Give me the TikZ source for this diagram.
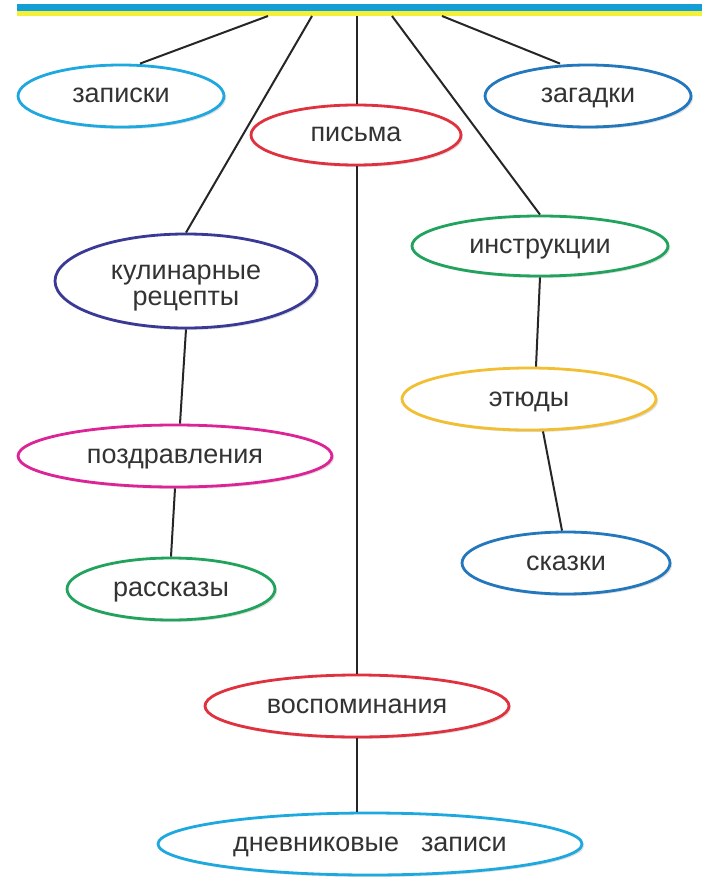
\documentclass[tikz,border=0pt]{standalone}
\usepackage{fontspec}
\setmainfont{Liberation Sans}
\usetikzlibrary{shapes.geometric,shadows}

\definecolor{skyblue}{HTML}{1EA8E0}
\definecolor{oceanblue}{HTML}{2277BD}
\definecolor{rosered}{HTML}{E0313E}
\definecolor{inkblue}{HTML}{3A3A96}
\definecolor{leafgreen}{HTML}{21A35E}
\definecolor{sunyellow}{HTML}{F2BE32}
\definecolor{magentapink}{HTML}{DD2496}
\definecolor{bartop}{HTML}{139FD6}
\definecolor{barbottom}{HTML}{F4F03A}
\definecolor{textgray}{HTML}{333333}

\begin{document}
\begin{tikzpicture}[x=1pt, y=-1pt,
	genre/.style={ellipse, draw, line width=2.8pt, fill=white, inner sep=0pt,
		text=textgray, font=\fontsize{27}{26}\selectfont,
		text height=14pt, text depth=0pt,
		drop shadow={shadow xshift=2pt, shadow yshift=-2pt, opacity=0.25, fill=gray}},
	link/.style={line width=2pt, black!85}] % pixel grid, y pointing down
	
	\useasboundingbox (0,0) rectangle (702,877);
	
	% Top bar
	\fill[barbottom] (17,10) rectangle (702,16);
	\fill[bartop] (17,4) rectangle (702,11);
	\coordinate (b1) at (268,16);
	\coordinate (b2) at (312,16);
	\coordinate (b3) at (357,16);
	\coordinate (b4) at (392,16);
	\coordinate (b5) at (442,16);
	
	% Genres
	\node[genre, draw=skyblue, minimum width=206pt, minimum height=62pt] (zapiski) at (121,96) {записки};
	\node[genre, draw=oceanblue, minimum width=206pt, minimum height=62pt] (zagadki) at (588,96) {загадки};
	\node[genre, draw=rosered, minimum width=210pt, minimum height=60pt] (pisma) at (356,135) {письма};
	\node[genre, draw=inkblue, minimum width=262pt, minimum height=94pt, align=center,
		text height=48pt] (recepty) at (186,281) {кулинарные\\рецепты};
	\node[genre, draw=leafgreen, minimum width=256pt, minimum height=60pt] (instrukcii) at (540,246) {инструкции};
	\node[genre, draw=sunyellow, minimum width=254pt, minimum height=62pt] (etyudy) at (529,399) {этюды};
	\node[genre, draw=magentapink, minimum width=314pt, minimum height=62pt] (pozdravleniya) at (175,456) {поздравления};
	\node[genre, draw=oceanblue, minimum width=208pt, minimum height=62pt] (skazki) at (566,563) {сказки};
	\node[genre, draw=leafgreen, minimum width=208pt, minimum height=62pt] (rasskazy) at (171,589) {рассказы};
	\node[genre, draw=rosered, minimum width=304pt, minimum height=62pt] (vospominaniya) at (357,706) {воспоминания};
	\node[genre, draw=skyblue, minimum width=424pt, minimum height=62pt] (dnevnik) at (370,844) {дневниковые\hspace{22pt}записи};
	
	% Links from the bar
	\draw[link] (b1) -- (zapiski.north -| 140,0);
	\draw[link] (b2) -- (recepty.north);
	\draw[link] (b3) -- (pisma.north -| b3);
	\draw[link] (b4) -- (instrukcii.north);
	\draw[link] (b5) -- (zagadki.north -| 560,0);
	
	% Links between genres
	\draw[link] (pisma.south -| b3) -- (vospominaniya.north);
	\draw[link] (vospominaniya.south) -- (dnevnik.north -| vospominaniya.south);
	\draw[link] (recepty.south) -- (pozdravleniya.north -| 180,0);
	\draw[link] (pozdravleniya.south) -- (rasskazy.north);
	\draw[link] (instrukcii.south) -- (etyudy.north -| 536,0);
	\draw[link] (etyudy.south -| 543,0) -- (skazki.north -| 562,0);
\end{tikzpicture}
\end{document}
